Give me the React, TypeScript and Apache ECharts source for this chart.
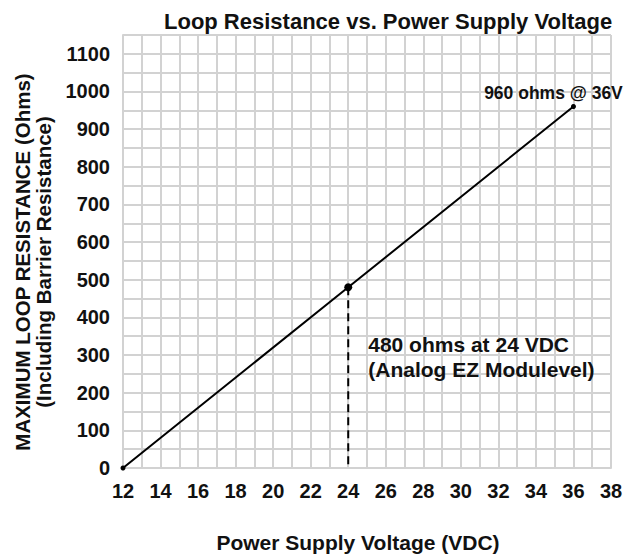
import React, { useEffect, useRef } from "react";
import * as echarts from "echarts";

const voltages = [12, 24, 36];
const resistances = [0, 480, 960];
const dropX = [24, 24];
const dropY = [480, 0];

const FONT = '"Liberation Sans", Arial, Helvetica, sans-serif';
const GRID_COLOR = "#d2d2d2";

export default function App() {
  const ref = useRef<HTMLDivElement>(null);
  useEffect(() => {
    if (!ref.current) return;
    const chart = echarts.init(ref.current, undefined, { renderer: "svg" });
    const mainData = voltages.map((v, i) => {
      const item: any = {
        value: [v, resistances[i]],
        symbolSize: i === 1 ? 8 : 5,
      };
      if (i === 2) {
        item.label = {
          show: true,
          position: "top",
          offset: [-20, 3],
          formatter: "960 ohms @ 36V",
          fontSize: 17.5,
          fontWeight: "bold",
          fontFamily: FONT,
          color: "#111",
        };
      }
      if (i === 1) {
        item.label = {
          show: true,
          position: "right",
          offset: [11, 70],
          align: "left",
          formatter: "480 ohms at 24 VDC\n(Analog EZ Modulevel)",
          fontSize: 21,
          lineHeight: 25,
          fontWeight: "bold",
          fontFamily: FONT,
          color: "#111",
        };
      }
      return item;
    });
    chart.setOption({
      animation: false,
      backgroundColor: "#fff",
      title: {
        text: "Loop Resistance vs. Power Supply Voltage",
        left: 159,
        top: 5,
        textStyle: { fontSize: 22, fontWeight: "bold", fontFamily: FONT, color: "#111", lineHeight: 22 },
      },
      grid: { left: 123, right: 19, top: 35, bottom: 91, containLabel: false },
      xAxis: {
        type: "value",
        min: 12,
        max: 38,
        interval: 2,
        name: "Power Supply Voltage (VDC)",
        nameLocation: "middle",
        nameGap: 64,
        nameTextStyle: {
          fontSize: 21,
          fontWeight: "bold",
          fontFamily: FONT,
          color: "#111",
          padding: [0, 18, 0, 0],
        },
        axisLine: { show: true, lineStyle: { color: GRID_COLOR, width: 2 } },
        axisTick: { show: false },
        axisLabel: {
          margin: 13,
          fontSize: 20,
          fontWeight: "bold",
          fontFamily: FONT,
          color: "#111",
        },
        splitLine: { show: true, lineStyle: { color: GRID_COLOR, width: 2 } },
        minorTick: { show: false, splitNumber: 2 },
        minorSplitLine: { show: true, lineStyle: { color: GRID_COLOR, width: 2 } },
      },
      yAxis: {
        type: "value",
        min: 0,
        max: 1150,
        interval: 50,
        axisLine: { show: true, lineStyle: { color: GRID_COLOR, width: 2 } },
        axisTick: { show: false },
        axisLabel: {
          margin: 13,
          fontSize: 20,
          fontWeight: "bold",
          fontFamily: FONT,
          color: "#111",
          formatter: (v: number) => (v % 100 === 0 ? String(v) : ""),
        },
        splitLine: { show: true, lineStyle: { color: GRID_COLOR, width: 2 } },
      },
      graphic: [
        {
          type: "text",
          x: 33,
          y: 262,
          rotation: Math.PI / 2,
          style: {
            text: "MAXIMUM LOOP RESISTANCE (Ohms)\n(Including Barrier Resistance)",
            font: `bold 20.5px ${FONT}`,
            lineHeight: 21,
            textAlign: "center",
            textVerticalAlign: "middle",
            fill: "#111",
          },
        },
      ],
      series: [
        {
          type: "line",
          data: dropX.map((x, i) => [x, dropY[i]]),
          symbol: "none",
          lineStyle: { color: "#000", width: 2, type: [8, 5] },
          z: 3,
        },
        {
          type: "line",
          data: mainData,
          symbol: "circle",
          itemStyle: { color: "#000" },
          lineStyle: { color: "#000", width: 2 },
          z: 4,
        },
      ],
    });
    return () => chart.dispose();
  }, []);
  return (
    <div
      ref={ref}
      style={{ position: "absolute", left: 0, top: 0, width: 630, height: 559 }}
    />
  );
}
